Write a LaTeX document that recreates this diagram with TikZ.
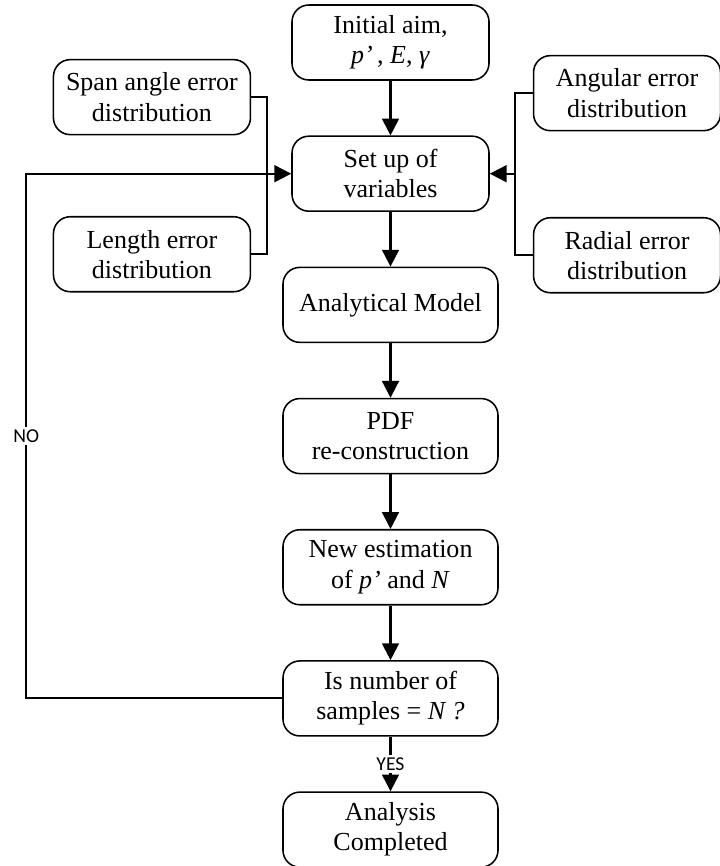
\documentclass[tikz,border=0pt]{standalone}
\usepackage{fontspec}
\setmainfont{Liberation Serif}
\newfontfamily\labelfont{Carlito}
\usetikzlibrary{arrows.meta,positioning,calc}

\begin{document}
\begin{tikzpicture}[
    node distance=1.366cm,
    stage/.style={rectangle, rounded corners=0.42cm, draw=black, line width=1.1pt, minimum width=5.375cm, minimum height=1.875cm, align=center, inner sep=2pt, font=\fontsize{18.5}{21.5}\selectfont},
    narrow/.style={stage, minimum width=4.925cm},
    errbox/.style={stage, minimum width=4.925cm},
    arr/.style={-{Triangle[length=0.42cm, width=0.42cm]}, line width=1.5pt},
    link/.style={line width=1.5pt},
    lbl/.style={fill=white, font=\labelfont\fontsize{14}{16}\selectfont, inner sep=2pt}
]
    \useasboundingbox (0,0) rectangle (17.975,-21.65);

    % main column
    \node[narrow] (aim) at (9.7625,-1.0625) {Initial aim,\\ \textit{p’}\,, \textit{E}, \textit{γ}};
    \node[narrow, below=of aim] (setup) {Set up of\\ variables};
    \node[stage, below=of setup] (model) {Analytical Model};
    \node[stage, below=of model] (pdf) {PDF\\ re-construction};
    \node[stage, below=of pdf] (estim) {New estimation\\ of \textit{p’} and \textit{N}};
    \node[stage, below=of estim] (check) {Is number of\\ samples = \textit{N ?}};
    \node[stage, below=of check] (done) {Analysis\\ Completed};

    % error inputs
    \node[errbox, above left=0cm and 1cm of setup] (span) {Span angle error\\ distribution};
    \node[errbox, below left=0.1cm and 1cm of setup] (length) {Length error\\ distribution};
    \node[errbox, minimum width=4.675cm, above right=0.1cm and 1.075cm of setup] (angular) {Angular error\\ distribution};
    \node[errbox, minimum width=4.675cm, below right=0.125cm and 1.075cm of setup] (radial) {Radial error\\ distribution};

    \draw[arr] (aim) -- (setup);
    \draw[arr] (setup) -- (model);
    \draw[arr] (model) -- (pdf);
    \draw[arr] (pdf) -- (estim);
    \draw[arr] (estim) -- (check);
    \draw[arr] (check) -- node[lbl] {YES} (done);

    \draw[link] (span.east) -- ++(0.4,0) |- (length.east);
    \draw[link] (angular.west) -- ++(-0.45,0) coordinate (rbus) |- (radial.west);
    \draw[arr] (rbus |- setup.east) -- (setup.east);
    \draw[arr] (check.west) -- ++(-6.4,0) |- node[lbl, pos=0.25] {NO} (setup.west);
\end{tikzpicture}
\end{document}
